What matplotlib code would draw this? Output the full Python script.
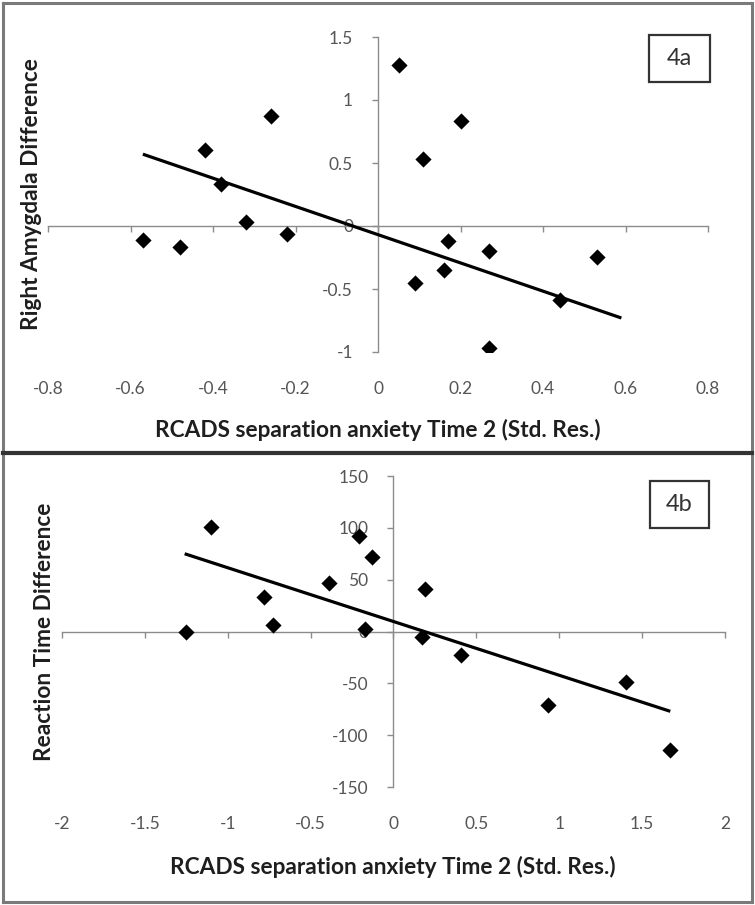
import matplotlib
matplotlib.use("Agg")
import matplotlib.pyplot as plt
from matplotlib.patches import Rectangle
from matplotlib.lines import Line2D

# panel 4a: right amygdala difference vs RCADS separation anxiety
a_x = [-0.57, -0.48, -0.42, -0.38, -0.32, -0.26, -0.22, 0.05, 0.11, 0.20,
       0.17, 0.27, 0.16, 0.09, 0.44, 0.53, 0.27]
a_y = [-0.11, -0.17, 0.60, 0.33, 0.03, 0.87, -0.06, 1.28, 0.53, 0.83,
       -0.12, -0.20, -0.35, -0.45, -0.59, -0.25, -0.97]
a_trend_x = [-0.57, 0.59]
a_trend_y = [0.57, -0.73]
a_xticks = [-0.8, -0.6, -0.4, -0.2, 0, 0.2, 0.4, 0.6, 0.8]
a_yticks = [-1, -0.5, 0, 0.5, 1, 1.5]

# panel 4b: reaction time difference vs RCADS separation anxiety
b_x = [-1.10, -1.25, -0.78, -0.73, -0.39, -0.21, -0.13, -0.17, 0.19, 0.17,
       0.41, 0.93, 1.40, 1.67]
b_y = [101, 0, 33, 6, 47, 92, 72, 2, 41, -5, -23, -71, -49, -114]
b_trend_x = [-1.26, 1.67]
b_trend_y = [75, -77]
b_xticks = [-2, -1.5, -1, -0.5, 0, 0.5, 1, 1.5, 2]
b_yticks = [-150, -100, -50, 0, 50, 100, 150]

XLABEL = "RCADS separation anxiety Time 2 (Std. Res.)"
AXIS = "#8c8c8c"
TICK = "#555555"
INK = "#1e1e1e"
FONT = "Lato"

W, H = 755, 905
fig = plt.figure(figsize=(W / 100, H / 100), dpi=100)


def fmt(v):
    return f"{v:g}"


def panel(rect_px, x, y, tx, ty, xticks, yticks, ylabel, tag, box_px, ylab_x):
    l, t, r, b = rect_px
    ax = fig.add_axes([l / W, 1 - b / H, (r - l) / W, (b - t) / H])
    ax.set_xlim(xticks[0], xticks[-1])
    ax.set_ylim(yticks[0], yticks[-1])
    for s in ("top", "right"):
        ax.spines[s].set_visible(False)
    ax.spines["left"].set_position(("data", 0))
    ax.spines["bottom"].set_position(("data", 0))
    for s in ("left", "bottom"):
        ax.spines[s].set_color(AXIS)
        ax.spines[s].set_linewidth(1.0)
    ax.set_xticks(xticks)
    ax.set_yticks(yticks, [fmt(v) for v in yticks])
    ax.tick_params(axis="x", direction="out", length=4, width=1.0,
                   color=AXIS, labelbottom=False)
    ax.tick_params(axis="y", direction="out", length=4, width=1.0,
                   color=AXIS, pad=14, labelsize=12.5, labelcolor=TICK)
    for lab in ax.get_yticklabels():
        lab.set_fontfamily(FONT)

    sec = ax.secondary_xaxis(0.0)
    sec.set_xticks(xticks, [fmt(v) for v in xticks])
    sec.spines["bottom"].set_visible(False)
    sec.tick_params(length=0, pad=21, labelsize=12.5, labelcolor=TICK)
    for lab in sec.get_xticklabels():
        lab.set_fontfamily(FONT)

    ax.plot(tx, ty, color="black", linewidth=2.3, solid_capstyle="butt", zorder=3)
    ax.scatter(x, y, marker="D", s=68, color="black", linewidths=0, zorder=4)

    ax.set_ylabel(ylabel, fontfamily=FONT, fontweight="bold", fontsize=16.3,
                  color=INK)
    ax.yaxis.set_label_coords((ylab_x - l) / (r - l), 0.5)
    ax.yaxis.label.set_va("center")

    bl, bt, br, bb = box_px
    fig.patches.append(Rectangle((bl / W, 1 - bb / H), (br - bl) / W, (bb - bt) / H,
                                 transform=fig.transFigure, facecolor="white",
                                 edgecolor="#333333", linewidth=1.6))
    fig.text((bl + br) / 2 / W, 1 - (bt + bb) / 2 / H, tag, ha="center", va="center",
             fontfamily=FONT, fontsize=17, color="#333333")
    return ax


panel((48, 37, 708, 352), a_x, a_y, a_trend_x, a_trend_y, a_xticks, a_yticks,
      "Right Amygdala Difference", "4a", (649, 35, 710, 82), 32)
fig.text(378 / W, 1 - 430 / H, XLABEL, ha="center", va="center", fontfamily=FONT,
         fontweight="bold", fontsize=16.3, color=INK)

panel((62, 476, 725, 787), b_x, b_y, b_trend_x, b_trend_y, b_xticks, b_yticks,
      "Reaction Time Difference", "4b", (650, 481, 709, 528), 45)
fig.text(393 / W, 1 - 867 / H, XLABEL, ha="center", va="center", fontfamily=FONT,
         fontweight="bold", fontsize=16.3, color=INK)

# outer frame and panel separator
frame = [((3, 3), (752, 3)), ((3, 3), (3, 902)), ((752, 3), (752, 902)),
         ((3, 902), (752, 902))]
for (x0, y0), (x1, y1) in frame:
    fig.lines.append(Line2D([x0 / W, x1 / W], [1 - y0 / H, 1 - y1 / H],
                            transform=fig.transFigure, color="#7a7a7a", linewidth=2.2))
fig.lines.append(Line2D([3 / W, 752 / W], [1 - 453 / H, 1 - 453 / H],
                        transform=fig.transFigure, color="#333333", linewidth=3))

fig.savefig("out.png", dpi=100)
